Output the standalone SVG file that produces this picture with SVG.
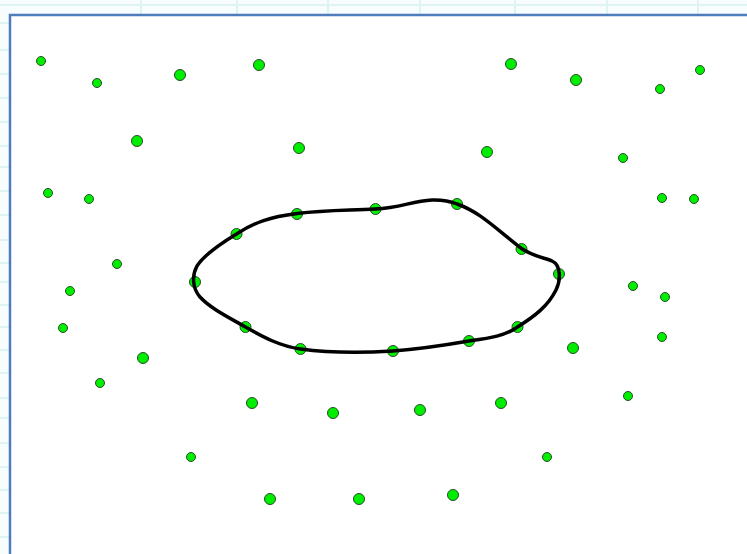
<svg xmlns="http://www.w3.org/2000/svg" width="747" height="554" viewBox="0 0 747 554">
<defs>
<style>
.bg{fill:#f7fcfc}
.grid{stroke:#e0f3f3;stroke-width:2;fill:none}
.frame{fill:#ffffff;stroke:#4f7dbb;stroke-width:2.5}
.dot{fill:#00ee00;stroke:#2a4a2a;stroke-width:1}
.curve{fill:none;stroke:#000;stroke-width:3.5;stroke-linejoin:round}
</style>
</defs>
<rect class="bg" x="0" y="0" width="747" height="554"/>
<g class="grid">
<path d="M141 0V15M237 0V15M328 0V15M420 0V15M515 0V15M607 0V15M698 0V15"/>
<path d="M0 5H747"/>
<path d="M0 23H10M0 50H10M0 74H10M0 98H10M0 122H10M0 146H10M0 167H10M0 191H10M0 215H10M0 240H10M0 263H10M0 282H10M0 305H10M0 327H10M0 350H10M0 373H10M0 398H10M0 418H10M0 443H10M0 467H10M0 490H10M0 513H10M0 537H10"/>
</g>
<rect class="frame" x="10" y="15" width="745" height="550"/>
<g id="dots">
<circle class="dot" cx="41" cy="61" r="4.5"/>
<circle class="dot" cx="97" cy="83" r="4.5"/>
<circle class="dot" cx="180" cy="75" r="5.5"/>
<circle class="dot" cx="259" cy="65" r="5.5"/>
<circle class="dot" cx="511" cy="64" r="5.5"/>
<circle class="dot" cx="576" cy="80" r="5.5"/>
<circle class="dot" cx="660" cy="89" r="4.5"/>
<circle class="dot" cx="700" cy="70" r="4.5"/>
<circle class="dot" cx="137" cy="141" r="5.5"/>
<circle class="dot" cx="299" cy="148" r="5.5"/>
<circle class="dot" cx="487" cy="152" r="5.5"/>
<circle class="dot" cx="623" cy="158" r="4.5"/>
<circle class="dot" cx="48" cy="193" r="4.5"/>
<circle class="dot" cx="89" cy="199" r="4.5"/>
<circle class="dot" cx="662" cy="198" r="4.5"/>
<circle class="dot" cx="694" cy="199" r="4.5"/>
<circle class="dot" cx="117" cy="264" r="4.5"/>
<circle class="dot" cx="70" cy="291" r="4.5"/>
<circle class="dot" cx="633" cy="286" r="4.5"/>
<circle class="dot" cx="665" cy="297" r="4.5"/>
<circle class="dot" cx="63" cy="328" r="4.5"/>
<circle class="dot" cx="143" cy="358" r="5.5"/>
<circle class="dot" cx="662" cy="337" r="4.5"/>
<circle class="dot" cx="573" cy="348" r="5.5"/>
<circle class="dot" cx="100" cy="383" r="4.5"/>
<circle class="dot" cx="252" cy="403" r="5.5"/>
<circle class="dot" cx="333" cy="413" r="5.5"/>
<circle class="dot" cx="420" cy="410" r="5.5"/>
<circle class="dot" cx="501" cy="403" r="5.5"/>
<circle class="dot" cx="628" cy="396" r="4.5"/>
<circle class="dot" cx="191" cy="457" r="4.5"/>
<circle class="dot" cx="547" cy="457" r="4.5"/>
<circle class="dot" cx="270" cy="499" r="5.5"/>
<circle class="dot" cx="359" cy="499" r="5.5"/>
<circle class="dot" cx="453" cy="495" r="5.5"/>
<circle class="dot" cx="236.5" cy="234" r="5.5"/>
<circle class="dot" cx="297" cy="214" r="5.5"/>
<circle class="dot" cx="375.5" cy="209" r="5.5"/>
<circle class="dot" cx="457" cy="204" r="5.5"/>
<circle class="dot" cx="521.5" cy="249" r="5.5"/>
<circle class="dot" cx="559" cy="274" r="5.5"/>
<circle class="dot" cx="517.5" cy="327" r="5.5"/>
<circle class="dot" cx="469" cy="341" r="5.5"/>
<circle class="dot" cx="393" cy="351" r="5.5"/>
<circle class="dot" cx="300.5" cy="349" r="5.5"/>
<circle class="dot" cx="245.5" cy="327" r="5.5"/>
<circle class="dot" cx="195" cy="282" r="5.5"/>
</g>
<g id="connectors">
<path class="curve" d="M236.5 234 C255 222 270 217 297 213.5 C325 210 345 210.5 375.5 209 C400 208 412 201 432 200 C445 199.5 452 202 457 204 C480 212 495 228 521.5 248.5 C532 256 545 258 552 261 C561 265 561 280 556 290 C548 306 535 316 517.5 327 C505 336 490 338 469 341 C440 346 420 349 393 351 C360 353 330 353 300.5 349 C280 346 265 338 245.5 327 C228 317 210 308 200 297 C192 288 192 275 197 266 C204 255 220 244 236.5 234 Z"/>
</g>
</svg>
